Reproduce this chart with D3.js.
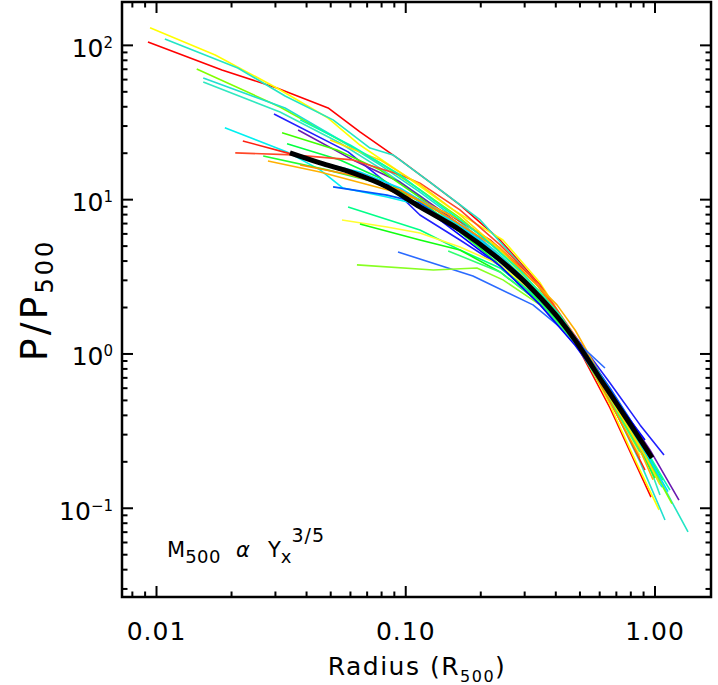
<!DOCTYPE html>
<html><head><meta charset="utf-8">
<script src="https://cdn.jsdelivr.net/npm/d3@7"></script>
<style>
body{margin:0;background:#fff;}
svg{display:block;}
text{font-family:"DejaVu Sans",sans-serif;fill:#000;}
</style>
</head><body>
<svg id="c" width="718" height="685"></svg>
<script>
// ---------- data ----------
const xMajorTicks = [0.01, 0.1, 1];
const xTickLabels = ["0.01", "0.10", "1.00"];
const xMinorTicks = [0.008, 0.009, 0.02, 0.03, 0.04, 0.05, 0.06, 0.07, 0.08, 0.09,
                     0.2, 0.3, 0.4, 0.5, 0.6, 0.7, 0.8, 0.9];
const yMajorTicks = [0.1, 1, 10, 100];
const yTickExponents = ["\u22121", "0", "1", "2"];
const yMinorTicks = [0.03, 0.04, 0.05, 0.06, 0.07, 0.08, 0.09,
                     0.2, 0.3, 0.4, 0.5, 0.6, 0.7, 0.8, 0.9,
                     2, 3, 4, 5, 6, 7, 8, 9, 20, 30, 40, 50, 60, 70, 80, 90];
const xDomain = [0.00727, 1.678];
const yDomain = [0.0266, 191];

const profileColors = [
  "#ff0000", "#ffff00", "#22e5c5", "#80ff00", "#20e0d0", "#30e8c0", "#2020ff",
  "#6a1ab0", "#40ff00", "#00ff40", "#00f0f0", "#ff2010", "#ff4828", "#20ff30",
  "#ffb000", "#0058ff", "#00ff88", "#ffff30", "#10ff10", "#2a6aff", "#88ff22",
  "#30ff70", "#00d8ff", "#ff9000", "#0000ff", "#ffe000", "#00ffb0"
];

// [radius / R500, P / P500]
const profiles = [
  [[0.00924,105],[0.0183,69.3],[0.0304,52.9],[0.0488,39.3],[0.0655,27.5],[0.0948,18.1],[0.125,13.0],[0.165,9.24],[0.239,5.48],[0.346,2.80],[0.478,1.20],[0.660,0.447],[0.964,0.118]],
  [[0.00942,130],[0.0172,86.7],[0.0304,52.9],[0.0488,33.8],[0.0655,22.6],[0.0948,15.1],[0.1505,8.84],[0.2455,5.48],[0.346,2.89],[0.478,1.27],[0.660,0.467],[0.832,0.206],[1.038,0.0975]],
  [[0.0108,110],[0.0212,71.4],[0.0328,47.0],[0.0511,32.9],[0.0719,21.6],[0.0889,19.5],[0.125,13.0],[0.199,7.39],[0.315,3.25],[0.478,1.27],[0.724,0.373],[1.047,0.153],[1.357,0.0702]],
  [[0.0145,70.3],[0.0313,39.9],[0.0497,26.3],[0.0788,17.3],[0.114,11.6],[0.165,7.61],[0.239,4.58],[0.346,2.52],[0.478,1.23],[0.660,0.542],[0.871,0.257],[1.170,0.107]],
  [[0.0154,61.5],[0.0328,39.3],[0.0545,24.4],[0.0788,16.8],[0.114,11.2],[0.165,7.17],[0.239,4.38],[0.346,2.48],[0.478,1.23],[0.660,0.503],[0.871,0.200],[1.097,0.0840]],
  [[0.0154,57.9],[0.0313,37.0],[0.0545,23.3],[0.0788,16.0],[0.114,10.6],[0.165,6.75],[0.239,4.19],[0.346,2.38],[0.478,1.23],[0.660,0.567],[0.871,0.277],[1.047,0.122]],
  [[0.0296,35.9],[0.0587,20.4],[0.0841,12.8],[0.114,7.96],[0.165,5.48],[0.239,3.72],[0.346,2.31],[0.478,1.31],[0.660,0.649],[0.871,0.347],[1.087,0.221]],
  [[0.0370,28.3],[0.0614,18.1],[0.0948,13.0],[0.137,8.58],[0.199,5.48],[0.287,3.25],[0.416,1.66],[0.549,0.942],[0.724,0.467],[0.955,0.239],[1.248,0.113]],
  [[0.0319,27.1],[0.0530,21.0],[0.0788,15.6],[0.114,10.3],[0.165,6.56],[0.239,4.19],[0.346,2.38],[0.478,1.27],[0.660,0.567],[0.871,0.269],[1.077,0.153]],
  [[0.0334,23.0],[0.0545,18.1],[0.0788,13.8],[0.114,9.66],[0.165,6.17],[0.239,3.95],[0.346,2.31],[0.478,1.23],[0.660,0.551],[0.871,0.257]],
  [[0.0188,29.2],[0.0334,20.4],[0.0453,15.6],[0.0560,11.9],[0.0841,10.4],[0.114,9.24],[0.165,6.86],[0.239,4.25],[0.346,2.38],[0.478,1.23],[0.660,0.534],[0.871,0.239],[1.067,0.137]],
  [[0.0222,24.0],[0.0334,20.1],[0.0497,16.8],[0.0719,13.8],[0.104,10.7],[0.1505,7.96],[0.218,5.48],[0.315,3.25],[0.416,1.79],[0.549,0.888],[0.724,0.373],[0.912,0.177]],
  [[0.0207,20.1],[0.0353,19.5],[0.0614,18.1],[0.0948,14.5],[0.114,12.8],[0.165,8.58],[0.239,5.09],[0.346,2.80],[0.478,1.31],[0.660,0.503],[0.871,0.232]],
  [[0.0268,19.2],[0.0483,15.6],[0.0788,12.8],[0.114,9.96],[0.165,6.17],[0.239,3.78],[0.346,2.17],[0.478,1.20],[0.660,0.519],[0.871,0.239],[1.0,0.157]],
  [[0.0280,17.8],[0.0453,15.1],[0.0841,11.6],[0.114,9.96],[0.165,7.39],[0.239,4.86],[0.315,3.11],[0.4045,2.08],[0.478,1.43],[0.660,0.567],[0.871,0.239],[0.982,0.153]],
  [[0.0511,12.1],[0.0841,10.7],[0.114,9.52],[0.165,6.36],[0.239,3.95],[0.346,2.24],[0.478,1.27],[0.660,0.602],[0.871,0.299]],
  [[0.0587,8.97],[0.114,6.36],[0.165,4.72],[0.239,3.61],[0.346,2.24],[0.478,1.23],[0.660,0.542],[0.871,0.257],[1.047,0.157]],
  [[0.0555,7.39],[0.0841,6.65],[0.114,6.08],[0.165,4.94],[0.239,3.78],[0.346,2.31],[0.478,1.27],[0.660,0.503],[0.871,0.221]],
  [[0.0655,6.96],[0.114,5.48],[0.165,4.72],[0.239,3.40],[0.346,2.14],[0.478,1.20],[0.660,0.519]],
  [[0.0931,4.58],[0.186,3.20],[0.324,2.08],[0.444,1.37],[0.630,0.811]],
  [[0.0637,3.78],[0.129,3.50],[0.193,3.61],[0.2455,3.02],[0.346,2.08],[0.478,1.20],[0.660,0.534],[0.871,0.250]],
  [[0.148,4.65],[0.239,3.40],[0.346,2.14],[0.478,1.18],[0.660,0.503],[0.871,0.232]],
  [[0.0413,18.1],[0.0655,15.1],[0.0948,11.9],[0.137,8.32],[0.199,5.48],[0.287,3.25],[0.416,1.71],[0.549,0.915],[0.724,0.434],[0.955,0.206],[1.128,0.128]],
  [[0.0377,16.8],[0.0598,14.5],[0.0948,11.6],[0.1505,7.61],[0.239,4.72],[0.346,2.68],[0.478,1.27],[0.660,0.489],[0.871,0.212]],
  [[0.0788,12.5],[0.114,9.24],[0.165,5.90],[0.239,3.72],[0.346,2.08],[0.478,1.14],[0.660,0.559],[0.912,0.277]],
  [[0.0497,24.4],[0.0788,18.1],[0.114,12.5],[0.165,7.96],[0.239,4.72],[0.346,2.52],[0.478,1.25],[0.660,0.519],[0.912,0.221],[1.047,0.142]],
  [[0.0377,32.9],[0.0598,22.6],[0.0948,14.5],[0.137,9.24],[0.199,5.90],[0.287,3.50],[0.416,1.79],[0.602,0.731],[0.871,0.277],[1.149,0.131]]
];

const meanProfile = [[0.0343,20.1],[0.0453,17.3],[0.0614,14.9],[0.0841,12.1],[0.114,8.97],[0.165,6.36],
  [0.239,4.07],[0.324,2.60],[0.416,1.66],[0.478,1.23],[0.618,0.649],[0.794,0.352],[0.973,0.212]];

// ---------- drawing ----------
const svg = d3.select("#c");
const L = 122, R = 711, T = 2, B = 597;
const x = d3.scaleLog().domain(xDomain).range([L, R]);
const y = d3.scaleLog().domain(yDomain).range([B, T]);

svg.append("rect").attr("width", 718).attr("height", 685).attr("fill", "#fff");

const line = d3.line().x(d => x(d[0])).y(d => y(d[1]));
const gLines = svg.append("g");
profiles.forEach((p, i) => {
  gLines.append("path").attr("d", line(p)).attr("fill", "none")
    .attr("stroke", profileColors[i]).attr("stroke-width", 1.6)
    .attr("stroke-linejoin", "round");
});
svg.append("path").attr("d", d3.line().x(d => x(d[0])).y(d => y(d[1])).curve(d3.curveMonotoneX)(meanProfile))
  .attr("fill", "none").attr("stroke", "#000").attr("stroke-width", 5).attr("stroke-linecap", "butt");

// ticks (inward on all sides)
const gT = svg.append("g").attr("stroke", "#000").attr("stroke-width", 2);
const MAJ = 11, MIN = 5.5;
function xt(v, len) {
  gT.append("line").attr("x1", x(v)).attr("x2", x(v)).attr("y1", B).attr("y2", B - len);
  gT.append("line").attr("x1", x(v)).attr("x2", x(v)).attr("y1", T).attr("y2", T + len);
}
function yt(v, len) {
  gT.append("line").attr("y1", y(v)).attr("y2", y(v)).attr("x1", L).attr("x2", L + len);
  gT.append("line").attr("y1", y(v)).attr("y2", y(v)).attr("x1", R).attr("x2", R - len);
}
xMajorTicks.forEach(v => xt(v, MAJ));
xMinorTicks.forEach(v => xt(v, MIN));
yMajorTicks.forEach(v => yt(v, MAJ));
yMinorTicks.forEach(v => yt(v, MIN));

svg.append("rect").attr("x", L).attr("y", T).attr("width", R - L).attr("height", B - T)
  .attr("fill", "none").attr("stroke", "#000").attr("stroke-width", 2.5);

// tick labels
xMajorTicks.forEach((v, i) => {
  svg.append("text").attr("x", x(v)).attr("y", 640).attr("text-anchor", "middle")
    .attr("font-size", 25).attr("letter-spacing", 1).text(xTickLabels[i]);
});
yMajorTicks.forEach((v, i) => {
  const t = svg.append("text").attr("x", 113).attr("y", y(v) + 11.5)
    .attr("text-anchor", "end").attr("font-size", 25);
  t.append("tspan").text("10");
  t.append("tspan").attr("font-size", 15).attr("dy", -9).text(yTickExponents[i]);
});

// axis titles
const xt1 = svg.append("text").attr("x", 417).attr("y", 675).attr("text-anchor", "middle")
  .attr("font-size", 25).attr("letter-spacing", 1.5);
xt1.append("tspan").text("Radius (R");
xt1.append("tspan").attr("font-size", 16).attr("dy", 7).text("500");
xt1.append("tspan").attr("dy", -7).text(")");

const yt1 = svg.append("text").attr("transform", "translate(47,300) rotate(-90)")
  .attr("text-anchor", "middle").attr("font-size", 38).attr("letter-spacing", 3);
yt1.append("tspan").text("P/P");
yt1.append("tspan").attr("font-size", 24).attr("dy", 6).text("500");

// annotation
const an = svg.append("text").attr("x", 167).attr("y", 557).attr("font-size", 21);
an.append("tspan").text("M");
an.append("tspan").attr("font-size", 18).attr("dy", 6).attr("letter-spacing", 0.5).text("500");
an.append("tspan").attr("x", 236).attr("dy", -6).attr("font-style", "italic").text("\u03b1");
an.append("tspan").attr("x", 268).text("Y");
an.append("tspan").attr("font-size", 18).attr("dy", 6).text("x");
an.append("tspan").attr("font-size", 19).attr("dy", -21).attr("letter-spacing", 1).text("3/5");
</script>
</body></html>
